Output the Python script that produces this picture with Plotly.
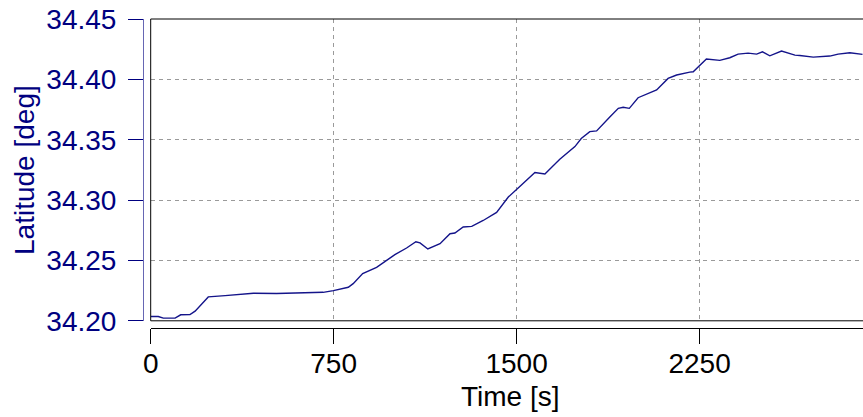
import plotly.graph_objects as go

time_s = [0, 31, 52, 100, 123, 161, 182, 236, 305, 366, 421, 516, 625, 707, 749, 810, 830,
          869, 926, 1001, 1049, 1087, 1104, 1136, 1186, 1227, 1247, 1281, 1316, 1363, 1418,
          1466, 1513, 1575, 1616, 1677, 1739, 1765, 1800, 1828, 1883, 1917, 1937, 1962, 1998,
          2033, 2074, 2121, 2156, 2210, 2224, 2278, 2292, 2333, 2374, 2408, 2449, 2484, 2508,
          2538, 2586, 2641, 2661, 2716, 2784, 2818, 2866, 2918]
latitude = [34.2036, 34.2036, 34.2022, 34.2022, 34.2050, 34.2052, 34.2080, 34.2198, 34.2209,
            34.2220, 34.2228, 34.2226, 34.2231, 34.2236, 34.2250, 34.2278, 34.2308, 34.2391,
            34.2443, 34.2548, 34.2603, 34.2655, 34.2645, 34.2595, 34.2639, 34.2721, 34.2727,
            34.2777, 34.2782, 34.2831, 34.2898, 34.3025, 34.3112, 34.3228, 34.3217, 34.3339,
            34.3443, 34.3510, 34.3567, 34.3573, 34.3691, 34.3760, 34.3769, 34.3760, 34.3848,
            34.3879, 34.3912, 34.4008, 34.4036, 34.4060, 34.4063, 34.4168, 34.4165, 34.4157,
            34.4179, 34.4209, 34.4217, 34.4209, 34.4228, 34.4195, 34.4234, 34.4201, 34.4198,
            34.4184, 34.4193, 34.4209, 34.4220, 34.4207]

x_ticks = [0, 750, 1500, 2250]
y_ticks = [34.20, 34.25, 34.30, 34.35, 34.40, 34.45]
y_tick_labels = ["34.20", "34.25", "34.30", "34.35", "34.40", "34.45"]
x_title = "Time [s]"
y_title = "Latitude [deg]"

NAVY = "#000080"
FONT = "Liberation Sans, Arial, sans-serif"
FS = 28

W, H = 863, 417
# page pixel targets (body margin removed by post_script)
left_px = 143
right_px = 863
top_px = 19
bottom_px = 328.5
plot_left_px = 150.7
plot_bottom_px = 321.3
xd0 = (plot_left_px - left_px) / (right_px - left_px)
yd0 = (bottom_px - plot_bottom_px) / (bottom_px - top_px)


def px_to_paper_x(px):
    return (px - left_px) / (right_px - left_px)


def px_to_paper_y(py):
    return (bottom_px - py) / (bottom_px - top_px)


fig = go.Figure()
fig.add_trace(go.Scatter(x=time_s, y=latitude, mode="lines",
                         line=dict(color="#14148a", width=1.4), showlegend=False,
                         hoverinfo="skip"))

grid = dict(showgrid=True, gridcolor="#9a9a9a", griddash="4px,4px", gridwidth=1)

fig.update_layout(
    width=W, height=H,
    margin=dict(l=left_px, r=W - right_px, t=top_px, b=H - bottom_px, pad=0, autoexpand=False),
    paper_bgcolor="white", plot_bgcolor="white",
    font=dict(family=FONT, size=FS),
    hovermode=False,
    xaxis=dict(domain=[xd0, 1], range=[0, 2920], anchor="free", position=0,
               automargin=False, ticklabeloverflow="allow",
               tickvals=x_ticks, ticktext=[str(v) for v in x_ticks],
               ticks="outside", ticklen=15, tickwidth=1, tickcolor="black",
               showline=True, linecolor="black", linewidth=1,
               tickfont=dict(color="black", size=FS, family=FONT),
               ticklabelstandoff=-5,
               zeroline=False, **grid),
    yaxis=dict(domain=[yd0, 1], range=[34.20, 34.45], anchor="free", position=0,
               automargin=False, ticklabeloverflow="allow",
               tickvals=y_ticks, ticktext=y_tick_labels,
               ticks="outside", ticklen=15, tickwidth=1, tickcolor=NAVY,
               showline=True, linecolor="rgba(0,0,128,0.6)", linewidth=1,
               tickfont=dict(color=NAVY, size=FS, family=FONT),
               ticklabelstandoff=6,
               zeroline=False, **grid),
    annotations=[
        dict(text=x_title, xref="paper", yref="paper", x=px_to_paper_x(510),
             y=px_to_paper_y(397.2), xanchor="center", yanchor="middle", showarrow=False,
             font=dict(color="black", size=FS, family=FONT)),
        dict(text=y_title, xref="paper", yref="paper", x=px_to_paper_x(25.2),
             y=px_to_paper_y(170), xanchor="center", yanchor="middle", showarrow=False,
             textangle=-90, font=dict(color=NAVY, size=FS, family=FONT)),
    ],
)

box = dict(color="black", width=1)
fig.add_shape(type="line", xref="x domain", yref="y domain", x0=0, x1=1, y0=1, y1=1, line=box)
fig.add_shape(type="line", xref="x domain", yref="y domain", x0=0, x1=1, y0=0, y1=0, line=box)
fig.add_shape(type="line", xref="x domain", yref="y domain", x0=0, x1=0, y0=0, y1=1, line=box)

fig.write_html("out.html", config={"displayModeBar": False, "staticPlot": True},
               post_script="document.body.style.margin='0px';document.body.style.overflow='hidden';")
